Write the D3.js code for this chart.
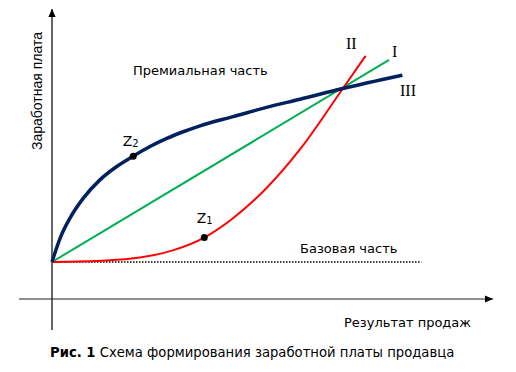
<!DOCTYPE html>
<html>
<head>
<meta charset="utf-8">
<script src="https://cdn.jsdelivr.net/npm/d3@7"></script>
<style>
	body { margin: 0; background: #fff; }
	svg { display: block; }
	.sans { font-family: "DejaVu Sans", Verdana, sans-serif; }
	.arial { font-family: "Liberation Sans", Arial, sans-serif; }
	.serif { font-family: "Liberation Serif", "Times New Roman", serif; }
</style>
</head>
<body>
<svg id="chart" width="516" height="372"></svg>
<script>
// data, in chart units (x: результат продаж, y: заработная плата)
var baseLevel = 1,
	baseEnd = 10.55;
// I - линейная
var lineI = [[0, 1], [9.63, 6.46]];
// II - прогрессивная
var lineII = [[0, 1], [1.56, 1.04], [2.51, 1.12], [3.47, 1.32], [4.35, 1.66], [5.18, 2.19],
	[6.13, 3.0], [7.09, 4.05], [8.31, 5.69], [8.96, 6.57]];
// III - регрессивная
var lineIII = [[0, 1], [0.23, 1.64], [0.51, 2.18], [0.89, 2.72], [1.37, 3.22], [1.85, 3.58],
	[2.32, 3.86], [2.80, 4.12], [3.28, 4.34], [3.75, 4.52], [4.23, 4.68], [5.18, 4.93],
	[6.13, 5.18], [7.09, 5.40], [8.31, 5.69], [10.01, 6.05]];
var pointZ1 = [4.35, 1.66],
	pointZ2 = [2.32, 3.86];

var svg = d3.select("#chart");

var x = d3.scaleLinear().domain([0, 10]).range([52, 402]),
	y = d3.scaleLinear().domain([0, 1]).range([299, 262]);

var line = d3.line()
	.x(function(d) { return x(d[0]); })
	.y(function(d) { return y(d[1]); })
	.curve(d3.curveMonotoneX);

// arrows
var defs = svg.append("defs");
defs.append("marker")
	.attr("id", "arrow")
	.attr("viewBox", "0 0 10 10")
	.attr("refX", 10).attr("refY", 5)
	.attr("markerWidth", 8).attr("markerHeight", 8)
	.attr("markerUnits", "userSpaceOnUse")
	.attr("orient", "auto")
	.append("path").attr("d", "M0,0.5L10,5L0,9.5Z").attr("fill", "#000");

// axes
svg.append("line")
	.attr("x1", x(0)).attr("x2", x(0))
	.attr("y1", 330).attr("y2", 9)
	.attr("stroke", "#000").attr("stroke-width", 1.2)
	.attr("marker-end", "url(#arrow)");
svg.append("line")
	.attr("x1", 19).attr("x2", 493)
	.attr("y1", y(0)).attr("y2", y(0))
	.attr("stroke", "#222").attr("stroke-width", 1.2)
	.attr("marker-end", "url(#arrow)");

// base level
svg.append("line")
	.attr("x1", x(0)).attr("x2", x(baseEnd))
	.attr("y1", y(baseLevel)).attr("y2", y(baseLevel))
	.attr("stroke", "#000").attr("stroke-width", 1.5)
	.attr("stroke-dasharray", "1.5,1.5");

// curves
svg.append("path").datum(lineI)
	.attr("d", line).attr("fill", "none")
	.attr("stroke", "#00b050").attr("stroke-width", 2);
svg.append("path").datum(lineII)
	.attr("d", line).attr("fill", "none")
	.attr("stroke", "#ff0000").attr("stroke-width", 2);
svg.append("path").datum(lineIII)
	.attr("d", line).attr("fill", "none")
	.attr("stroke", "#002060").attr("stroke-width", 3.5);

// points
[pointZ1, pointZ2].forEach(function(p) {
	svg.append("circle")
		.attr("cx", x(p[0])).attr("cy", y(p[1])).attr("r", 3.5)
		.attr("fill", "#000");
});

// labels
function zLabel(px, py, sub) {
	var t = svg.append("text").attr("class", "sans")
		.attr("x", px).attr("y", py)
		.style("font-size", "14px");
	t.append("tspan").text("Z");
	t.append("tspan").attr("dy", 1).style("font-size", "10px").text(sub);
}
zLabel(x(pointZ2[0]) - 10.5, y(pointZ2[1]) - 10, "2");
zLabel(x(pointZ1[0]) - 7.5, y(pointZ1[1]) - 14.5, "1");

svg.append("text").attr("class", "sans")
	.attr("x", 133).attr("y", 75)
	.style("font-size", "13px")
	.text("Премиальная часть");
svg.append("text").attr("class", "sans")
	.attr("x", 300).attr("y", 253)
	.style("font-size", "13px")
	.text("Базовая часть");
svg.append("text").attr("class", "sans")
	.attr("x", 344).attr("y", 327)
	.style("font-size", "13px")
	.text("Результат продаж");
svg.append("text").attr("class", "arial")
	.attr("transform", "translate(42,91) rotate(-90)")
	.attr("text-anchor", "middle")
	.style("font-size", "14px")
	.text("Заработная плата");

svg.append("text").attr("class", "serif")
	.attr("x", 346).attr("y", 49).style("font-size", "16px").text("II");
svg.append("text").attr("class", "serif")
	.attr("x", 392).attr("y", 57).style("font-size", "16px").text("I");
svg.append("text").attr("class", "serif")
	.attr("x", 400).attr("y", 96).style("font-size", "16px").text("III");

// caption
var cap = svg.append("text").attr("class", "sans")
	.attr("x", 50).attr("y", 357)
	.style("font-size", "13.2px");
cap.append("tspan").style("font-weight", "bold").text("Рис. 1");
cap.append("tspan").text(" Схема формирования заработной платы продавца");
</script>
</body>
</html>
